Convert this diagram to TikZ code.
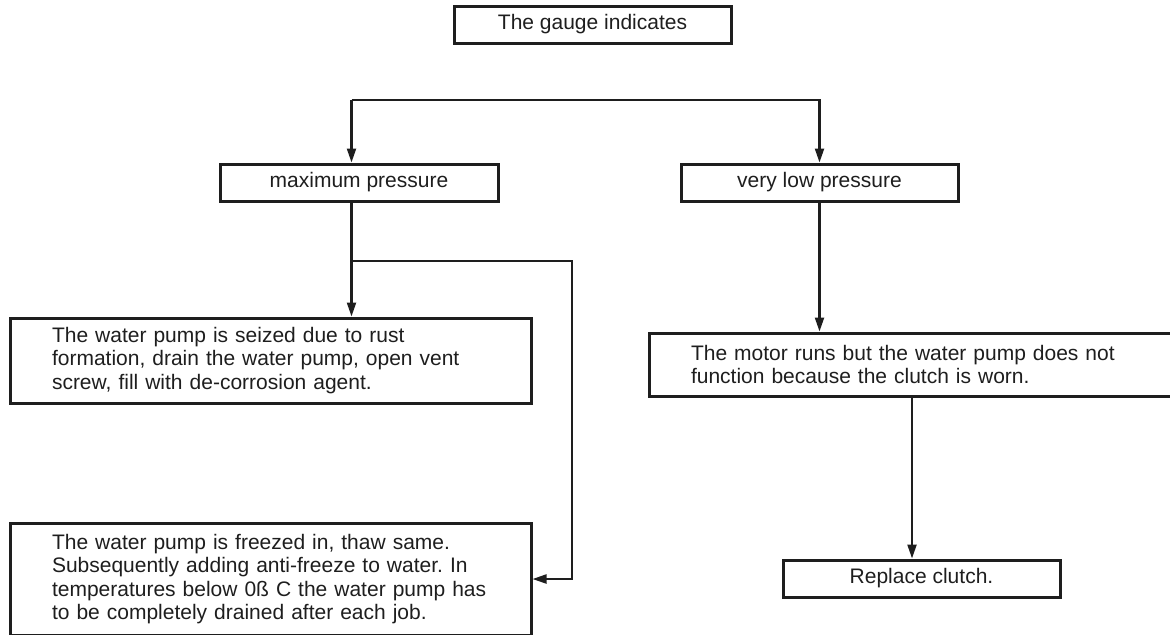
\documentclass[tikz,border=0pt]{standalone}
\usepackage{fontspec}
\setmainfont{Liberation Sans}
\usepackage{tikz}
\usetikzlibrary{calc}
\usetikzlibrary{arrows.meta}
\frenchspacing
\definecolor{ink}{HTML}{1E1E1E}
\tikzstyle{every node}=[font=\fontsize{10.5}{11.8}\selectfont, text=ink]
\tikzstyle{box}=[draw=ink, line width=1.5pt, inner sep=0pt, minimum height=18.5pt]
\tikzstyle{textbox}=[box, align=left, inner xsep=21pt]
\tikzstyle{arrow}=[draw=ink, line width=1.1pt, -{Triangle[length=7pt,width=4.5pt]}]

\begin{document}
\begin{tikzpicture}[x=0.5pt, y=-0.5pt]

                \useasboundingbox (0, 0) rectangle (1170, 634);

                \node [box, minimum width=138.5pt] (gauge) at (592.5, 24.5) {The gauge indicates};
                \node [box, minimum width=139pt] (maxp) at (359, 182.5) {maximum pressure};
                \node [box, minimum width=138.5pt] (lowp) at (819.5, 182.5) {very low pressure};

                \node [textbox, text width=218.5pt, minimum height=42.5pt] (seized) at (270.5, 360.5)
                    {The water pump is seized due to rust\\
                     formation, drain the water pump, open vent\\
                     screw, fill with de-corrosion agent.};
                \node [textbox, text width=218.5pt, minimum height=56pt] (freeze) at (270.5, 579)
                    {The water pump is freezed in, thaw same.\\
                     Subsequently adding anti-freeze to water. In\\
                     temperatures below 0ß C the water pump has\\
                     to be completely drained after each job.};
                \node [textbox, text width=221pt, minimum height=31.5pt] (worn) at (912, 364.5)
                    {The motor runs but the water pump does not\\
                     function because the clutch is worn.};
                \node [box, minimum width=138.5pt] (clutch) at (921.5, 578.5) {Replace clutch.};

                \coordinate (split) at (351.5, 100);
                \coordinate (branch) at (351.5, 261);
                \coordinate (bend) at (572, 261);

                \draw [arrow] (split) -- (split |- maxp.north);
                \draw [arrow] (split) -| (lowp.north);

                \draw [arrow] (maxp.south -| split) -- (seized.north -| split);
                \draw [arrow] (branch) -- (bend) |- (freeze.east);

                \draw [arrow] (lowp.south) -- (lowp.south |- worn.north);
                \draw [arrow] (worn.south) -- (worn.south |- clutch.north);

            \end{tikzpicture}
\end{document}
